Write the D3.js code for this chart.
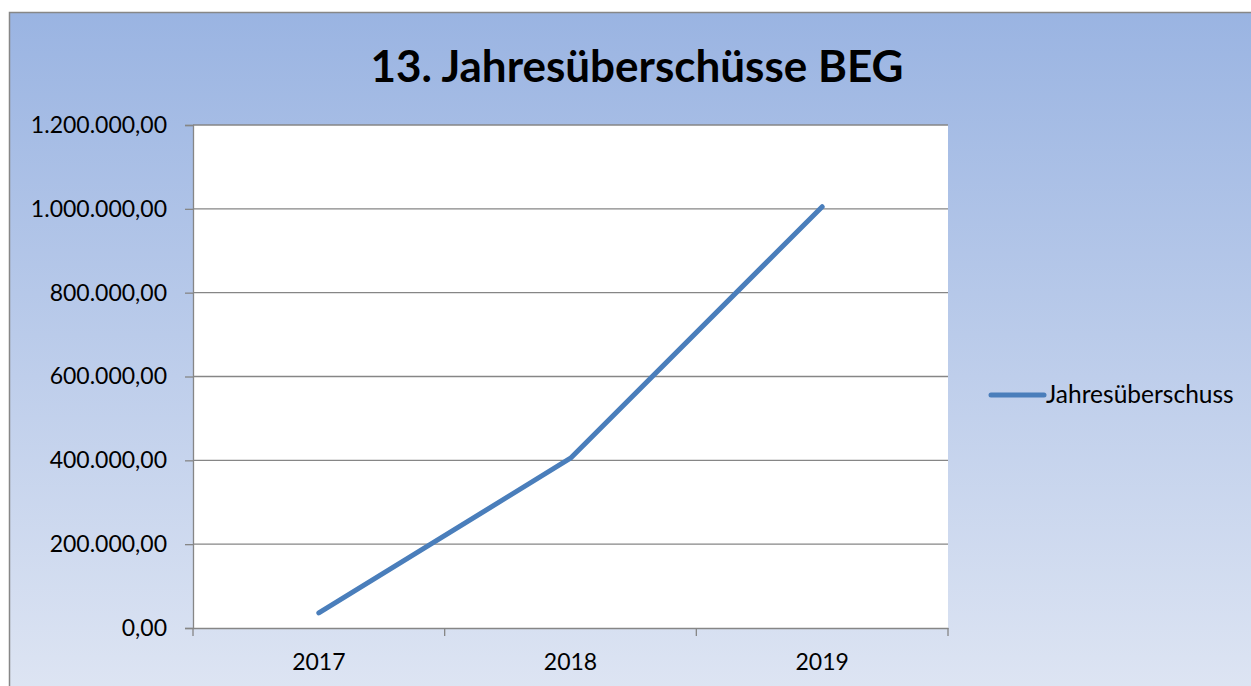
<!DOCTYPE html>
<html>
<head>
<meta charset="utf-8">
<script src="https://cdn.jsdelivr.net/npm/d3@7"></script>
<style>
  body { margin: 0; background: #fff; }
  svg { display: block; }
</style>
</head>
<body>
<script>
let years = ["2017", "2018", "2019"];
let values = [36000, 405000, 1005000];
let yTicks = [0, 200000, 400000, 600000, 800000, 1000000, 1200000];
let seriesName = "Jahresüberschuss";
let title = "13. Jahresüberschüsse BEG";

let w = 1251;
let h = 686;
let plot = { left: 193, top: 125, right: 948, bottom: 628 };
let font = "Lato, 'Open Sans', sans-serif";

let svg = d3.select("body")
  .append("svg")
  .attr("width", w)
  .attr("height", h);

// background gradient
let grad = svg.append("defs").append("linearGradient")
  .attr("id", "bg")
  .attr("x1", 0).attr("y1", 0).attr("x2", 0).attr("y2", 1);
grad.append("stop").attr("offset", "0%").attr("stop-color", "#9AB4E2");
grad.append("stop").attr("offset", "100%").attr("stop-color", "#DEE5F3");

svg.append("rect")
  .attr("x", 9.5).attr("y", 12.5)
  .attr("width", w).attr("height", h)
  .attr("fill", "url(#bg)")
  .attr("stroke", "#878787")
  .attr("stroke-width", 1.5);

svg.append("rect")
  .attr("x", plot.left).attr("y", plot.top)
  .attr("width", plot.right - plot.left)
  .attr("height", plot.bottom - plot.top)
  .attr("fill", "#fff");

let xScale = d3.scaleBand()
  .domain(years)
  .range([plot.left, plot.right]);

let yScale = d3.scaleLinear()
  .domain([0, 1200000])
  .range([plot.bottom, plot.top]);

let fmt = (d) => d3.format(",.2f")(d).replace(/,/g, "#").replace(/\./g, ",").replace(/#/g, ".");

// gridlines
svg.selectAll("line.grid")
  .data(yTicks.slice(1))
  .enter()
  .append("line")
  .attr("class", "grid")
  .attr("x1", plot.left).attr("x2", plot.right)
  .attr("y1", (d) => yScale(d)).attr("y2", (d) => yScale(d))
  .attr("stroke", "#868686")
  .attr("stroke-width", 1.3);

// y axis
let yAxis = svg.append("g")
  .attr("transform", `translate(${plot.left},0)`)
  .call(d3.axisLeft(yScale).tickValues(yTicks).tickFormat(fmt).tickSize(8).tickPadding(18));

// x axis
let xAxis = svg.append("g")
  .attr("transform", `translate(0,${plot.bottom})`)
  .call(d3.axisBottom(xScale).tickSize(0).tickPadding(26));

// x ticks at category boundaries
let bounds = years.map((d) => xScale(d)).concat([plot.right]);
xAxis.selectAll("line.bound")
  .data(bounds)
  .enter()
  .append("line")
  .attr("class", "bound")
  .attr("x1", (d) => d).attr("x2", (d) => d)
  .attr("y1", 0).attr("y2", 8)
  .attr("stroke", "#868686")
  .attr("stroke-width", 1.3);

[yAxis, xAxis].forEach((g) => {
  g.select(".domain").attr("stroke", "#868686").attr("stroke-width", 1.3);
  g.selectAll(".tick line").attr("stroke", "#868686").attr("stroke-width", 1.3);
  g.selectAll("text")
    .attr("font-family", font)
    .attr("font-size", "23px")
    .attr("fill", "#000");
});

// series line
let line = d3.line()
  .x((d, i) => xScale(years[i]) + xScale.bandwidth() / 2)
  .y((d) => yScale(d));

svg.append("path")
  .datum(values)
  .attr("d", line)
  .attr("fill", "none")
  .attr("stroke", "#4A7EBB")
  .attr("stroke-width", 5)
  .attr("stroke-linecap", "round")
  .attr("stroke-linejoin", "round");

// title
svg.append("text")
  .attr("x", 637)
  .attr("y", 82)
  .attr("text-anchor", "middle")
  .attr("font-family", font)
  .attr("font-weight", "bold")
  .attr("font-size", "44px")
  .attr("fill", "#000")
  .text(title);

// legend
svg.append("line")
  .attr("x1", 991).attr("x2", 1044)
  .attr("y1", 395).attr("y2", 395)
  .attr("stroke", "#4A7EBB")
  .attr("stroke-width", 5)
  .attr("stroke-linecap", "round");

svg.append("text")
  .attr("x", 1046)
  .attr("y", 403)
  .attr("font-family", font)
  .attr("font-size", "24.5px")
  .attr("fill", "#000")
  .text(seriesName);
</script>
</body>
</html>
